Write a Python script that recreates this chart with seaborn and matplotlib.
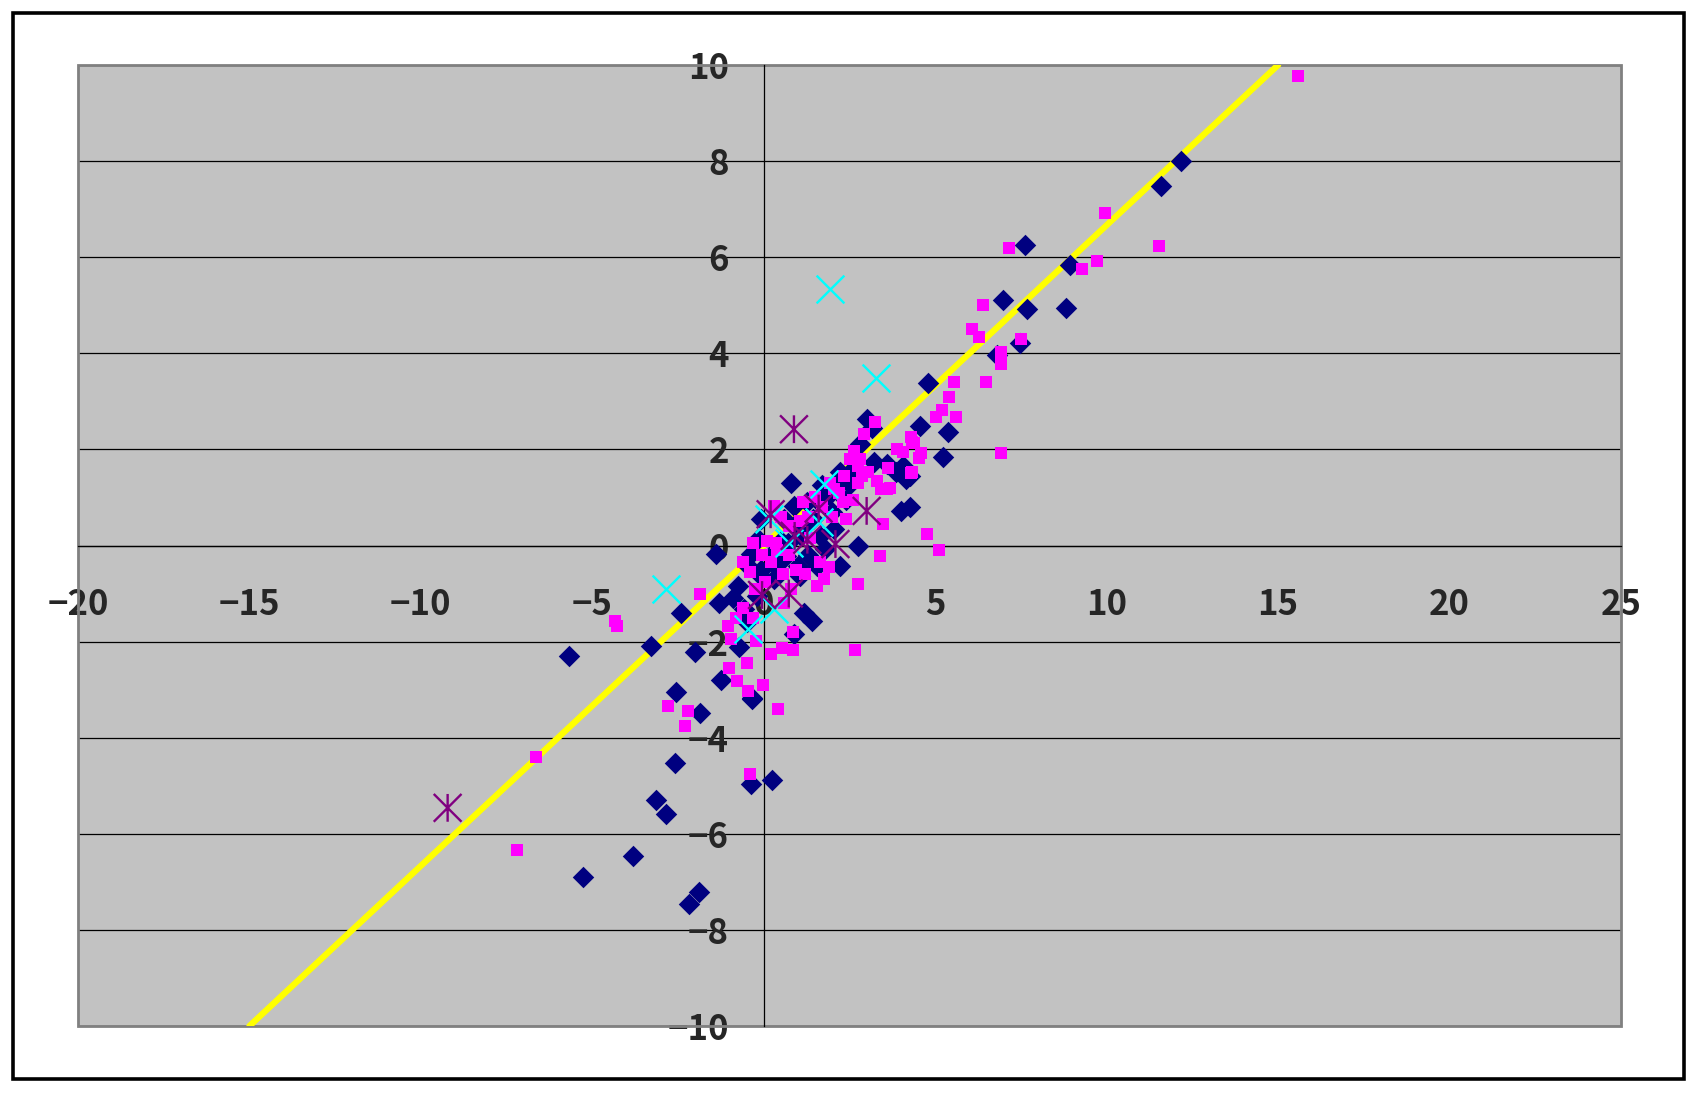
import matplotlib
matplotlib.use("Agg")
import matplotlib.pyplot as plt
from matplotlib.patches import Rectangle
from matplotlib.path import Path
import pandas as pd
import seaborn as sns

# series 1 - navy diamonds
navy_x = [12.17, 11.57, 7.62, 8.93, 6.99, 7.68, 8.81, 7.48, 6.81, 4.78, 4.55, 5.36, 5.22, 4.06, 4.26, 4.26, 4.0,
          3.0, 3.15, 2.81, 3.2, 3.58, 3.87, 4.16, 2.23, 2.52, 2.13, 0.78, 1.27, 0.88, 0.59, 1.65, 1.8, 1.55, 2.23,
          2.76, 0.88, -0.17, -0.36, -0.46, -0.07, 0.36, 0.64, 1.0, 1.06, 0.3, -0.09, -0.09, 1.45, 2.0, 2.4, 1.9,
          1.1, 0.5, 1.3, 2.6, 1.7, 0.2, 1.25, 0.7, 2.05, 1.55,
          1.41, 1.17, 0.88, -1.39, -2.41, -3.28, -2.02, -0.72, -0.58, -1.25, -2.55, -1.87, -0.33, -5.69, -2.6,
          -3.13, -2.84, -3.81, -5.26, -1.89, -2.18, -0.36, 0.23, -0.35, -0.9, -1.3, -0.5, -0.75, -0.2]
navy_y = [8.0, 7.48, 6.26, 5.84, 5.11, 4.92, 4.94, 4.21, 3.97, 3.38, 2.49, 2.36, 1.85, 1.66, 1.45, 0.8, 0.72,
          2.63, 2.45, 2.11, 1.73, 1.69, 1.52, 1.38, 1.52, 1.28, 1.21, 1.31, 0.9, 0.82, 0.55, 0.2, -0.08, -0.43, -0.43,
          0.0, 0.41, 0.13, -0.18, -0.42, -0.64, -0.42, -0.22, -0.42, -0.63, -0.7, -0.5, 0.55, 0.55, 0.7, 0.95, 1.05,
          0.2, 0.1, -0.2, 1.6, 1.25, -0.2, 0.45, 0.05, 0.35, 0.95,
          -1.57, -1.4, -1.85, -0.18, -1.4, -2.1, -2.22, -2.12, -1.33, -2.79, -3.05, -3.48, -3.2, -2.31, -4.52,
          -5.3, -5.58, -6.47, -6.9, -7.21, -7.47, -4.97, -4.89, -3.17, -1.1, -1.2, -1.6, -0.85, -1.05]

# series 2 - magenta squares
pink_x = [15.58, 9.94, 7.16, 11.54, 9.71, 9.27, 6.4, 6.06, 6.27, 7.5, 6.92, 6.92, 5.54, 6.49, 5.39, 5.19, 5.01,
          5.62, 4.29, 4.38, 4.05, 4.58, 4.52, 6.93, 4.29, 4.75, 5.1,
          3.25, 2.91, 3.88, 3.63, 2.62, 2.81, 3.42, 3.67, 3.49, 3.38, 2.75, 2.67,
          4.31, 4.31, 2.52, 2.76, 3.05, 3.29, 3.58, 2.33, 2.76, 1.94, 2.04, 0.3,
          2.3, 2.6, 2.0, 2.4, 1.3, 1.05, 0.75, -0.3, 0.1, 0.35, -0.05, 0.2, -0.4, 0.05, -0.25, 0.75, 0.95, 1.2,
          1.65, 1.9, 1.75, 1.55, 0.6, 0.8, 1.15, 1.5, 0.5, 1.7, 2.2, 2.85, 1.35, 0.4, -0.6, 0.55,
          -1.87, -4.34, -4.28, -1.05, -0.95, -0.48, -0.23, 0.2, 0.54, 0.85, 0.85, -0.02, -0.47, 0.41, -1.01,
          -0.77, -2.79, -2.21, -2.3, -0.4, -6.63, -7.21, -0.6, -0.8, -0.3]
pink_y = [9.77, 6.92, 6.19, 6.24, 5.92, 5.76, 5.0, 4.5, 4.34, 4.3, 4.03, 3.77, 3.4, 3.4, 3.09, 2.82, 2.67,
          2.67, 2.26, 2.13, 1.94, 1.92, 1.82, 1.92, 1.51, 0.24, -0.1,
          2.56, 2.32, 2.0, 1.62, 1.97, 1.8, 1.17, 1.2, 0.44, -0.22, -0.81, -2.17,
          2.15, 1.52, 1.8, 1.66, 1.52, 1.35, 1.17, 1.45, 1.31, 1.31, 1.17, 0.83,
          0.9, 0.95, 0.6, 0.55, 0.6, 0.5, 0.4, 0.05, 0.1, 0.05, -0.2, -0.35, -0.55, -0.75, -0.9, -0.2, -0.5, -0.6,
          -0.35, -0.45, -0.7, -0.85, -1.2, -0.9, 0.9, 1.0, 0.6, 0.8, 1.1, 1.45, 0.15, -0.1, -0.35, -0.6,
          -1.01, -1.57, -1.68, -1.67, -1.95, -2.44, -1.99, -2.26, -2.13, -2.18, -1.81, -2.91, -3.03, -3.4, -2.54,
          -2.82, -3.34, -3.44, -3.76, -4.76, -4.4, -6.34, -1.3, -1.5, -1.5]

# series 3 - cyan crosses
cyan_x = [1.92, 3.27, 1.75, 1.6, 0.15, 0.75, 0.3, -0.45, -2.84]
cyan_y = [5.33, 3.48, 1.28, 0.48, 0.55, 0.05, -1.33, -1.74, -0.9]

# series 4 - purple asterisks
star_x = [0.88, 0.2, 1.6, 3.0, 0.9, 1.27, 2.09, -0.05, 0.73, -9.22]
star_y = [2.42, 0.65, 0.77, 0.72, 0.2, 0.12, 0.03, -1.03, -1.0, -5.46]

# reference line
line_x = [-15, 15]
line_y = [-10, 10]

x_ticks = [-20, -15, -10, -5, 0, 5, 10, 15, 20, 25]
y_ticks = [-10, -8, -6, -4, -2, 0, 2, 4, 6, 8, 10]

sns.set_style("white")
plt.rcParams['font.family'] = ['Noto Sans CJK JP', 'DejaVu Sans']

fig = plt.figure(figsize=(16.99, 10.93), dpi=100)
ax = fig.add_axes([78 / 1699, 1 - 1026 / 1093, (1621 - 78) / 1699, (1026 - 65) / 1093])
ax.set_facecolor('#c2c2c2')

# outer chart frame
fig.patches.append(Rectangle((13 / 1699, 1 - 1079 / 1093), (1684 - 13) / 1699, (1079 - 13) / 1093,
                             transform=fig.transFigure, fill=False, edgecolor='black', linewidth=2.6))

sns.lineplot(x=line_x, y=line_y, color='#ffff00', linewidth=4.5, ax=ax, zorder=2, solid_capstyle='round')

sns.scatterplot(data=pd.DataFrame({'x': navy_x, 'y': navy_y}), x='x', y='y', marker='D', s=120,
                color='#000080', linewidth=0, ax=ax, zorder=3)
sns.scatterplot(data=pd.DataFrame({'x': pink_x, 'y': pink_y}), x='x', y='y', marker='s', s=66,
                color='#ff00ff', linewidth=0, ax=ax, zorder=4)
sns.scatterplot(data=pd.DataFrame({'x': cyan_x, 'y': cyan_y}), x='x', y='y', marker='x', s=400,
                color='#00ffff', linewidth=1.7, ax=ax, zorder=5)

star = Path([(-0.5, -0.5), (0.5, 0.5), (-0.5, 0.5), (0.5, -0.5), (0, -0.5), (0, 0.5)],
            [Path.MOVETO, Path.LINETO, Path.MOVETO, Path.LINETO, Path.MOVETO, Path.LINETO])
sns.scatterplot(data=pd.DataFrame({'x': star_x, 'y': star_y}), x='x', y='y', marker=star, s=400,
                facecolor='none', edgecolor='#800080', linewidth=1.7, ax=ax, zorder=6)

ax.set_xlim(-20, 25)
ax.set_ylim(-10, 10)

# axes cross at the origin
for side in ['top', 'right']:
    ax.spines[side].set_visible(False)
ax.spines['left'].set_position(('data', 0))
ax.spines['bottom'].set_position(('data', 0))
for side in ['left', 'bottom']:
    ax.spines[side].set_color('black')
    ax.spines[side].set_linewidth(0.9)
    ax.spines[side].set_zorder(1.5)

ax.add_patch(Rectangle((0, 0), 1, 1, transform=ax.transAxes, fill=False, edgecolor='#808080',
                       linewidth=2, clip_on=False, zorder=1))

ax.yaxis.grid(True, color='black', linewidth=0.9)
ax.xaxis.grid(False)
ax.set_axisbelow(True)

ax.set_xticks(x_ticks)
ax.set_xticklabels([str(v).replace('-', '−') for v in x_ticks])
ax.set_yticks(y_ticks)
ax.set_yticklabels([str(v).replace('-', '−') for v in y_ticks])
ax.tick_params(axis='x', direction='in', length=8, width=0.9, color='black', pad=30, labelsize=25)
ax.tick_params(axis='y', direction='in', length=6, width=0.9, color='black', pad=25, labelsize=25)
for lab in ax.get_xticklabels() + ax.get_yticklabels():
    lab.set_fontweight('bold')

ax.set_xlabel('')
ax.set_ylabel('')

fig.savefig('out.png', dpi=100)
